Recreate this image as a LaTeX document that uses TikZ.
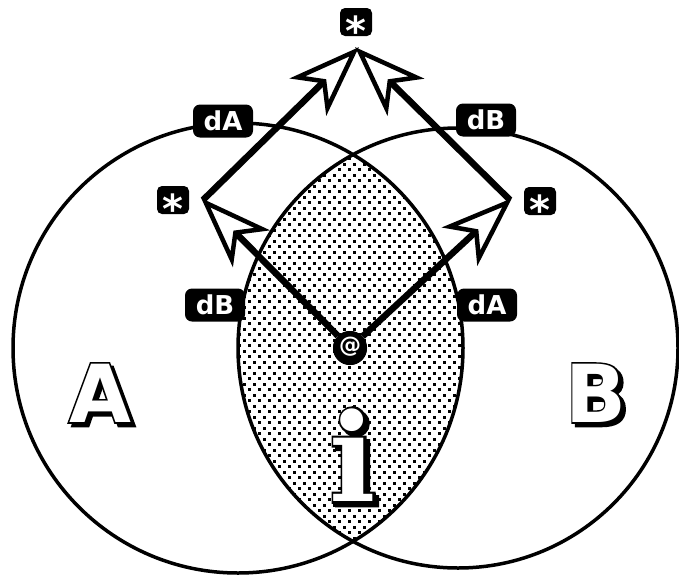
\documentclass[tikz,border=0pt]{standalone}
\usepackage{fontspec}
\setmainfont{DejaVu Sans}
\newfontface\sansfat[FakeBold=4]{DejaVu Sans Bold}
\newfontface\sansreg{DejaVu Sans Bold}
\newfontface\seriffat[FakeBold=4]{DejaVu Serif Bold}
\newfontface\serifreg{DejaVu Serif Bold}
\usetikzlibrary{calc}
\newcommand\fancytext[5]{% name, pos, fat font, regular font, text
  \node[font=#3,text=black,inner sep=0pt] at ($(#2)+(3.5,3.5)$) {#5};
  \node[font=#3,text=black,inner sep=0pt] at (#2) {#5};
  \node[font=#4,text=white,inner sep=0pt] (#1) at (#2) {#5};
}
\newcommand\harrow[2]{%
  \draw[shaft] (#1) -- ($(#2)!44pt!(#1)$);
}
\newcommand\hhead[2]{%
  \draw[headst] ($(#2)!4pt!(#1)$) -- ($(#2)!66pt!19:(#1)$) -- ($(#2)!46pt!(#1)$) -- ($(#2)!66pt!-19:(#1)$) -- cycle;
}
\begin{document}
\begin{tikzpicture}[x=1pt,y=-1pt,
  ring/.style={line width=3.5pt},
  shaft/.style={line width=6.5pt},
  headst/.style={line width=4.5pt, fill=white, line join=miter},
  tag/.style={fill=black, text=white, rounded corners=7pt, font=\bfseries\fontsize{26}{26}\selectfont, inner sep=0pt, minimum width=60pt, minimum height=33pt},
  starbox/.style={fill=black, rounded corners=5pt, inner sep=0pt, minimum width=32pt, minimum height=28pt},
  startext/.style={text=white, font=\bfseries\fontsize{40}{40}\selectfont, inner sep=0pt, anchor=base}]
\useasboundingbox (0,0) rectangle (679,581);
\fill[white] (0,0) rectangle (679,581);
\coordinate (cA) at (238,348);
\coordinate (cB) at (458,348);
% lens dots
\begin{scope}
  \clip (cA) circle[radius=225pt];
  \clip (cB) circle[radius=220pt];
  \foreach \j in {0,...,73} {
    \foreach \i in {0,...,24} {
      \pgfmathsetmacro\xx{228+10*\i+5*mod(\j,2)}
      \pgfmathsetmacro\yy{146+5.5*\j}
      \fill[black] (\xx,\yy) rectangle +(3.3,3.3);
    }
  }
\end{scope}
\draw[ring] (cA) circle[radius=225pt];
\draw[ring] (cB) circle[radius=220pt];
% arrow points
\coordinate (apex) at (357,49);
\coordinate (lc) at (203,200);
\coordinate (rc) at (510,200);
\node[fill=black, circle, inner sep=0pt, minimum size=34pt] (at) at (350,348) {};
% shafts
\harrow{at}{lc}
\harrow{at}{rc}
\harrow{lc}{apex}
\harrow{rc}{apex}
% heads
\hhead{at}{lc}
\hhead{at}{rc}
\hhead{lc}{apex}
\hhead{rc}{apex}
\node[fill=black, circle, inner sep=0pt, minimum size=34pt] (atb) at (350,348) {};
\node[text=white, font=\bfseries\fontsize{22}{22}\selectfont, inner sep=0pt] (attext) at (350,347) {@};
% tags
\node[tag] (dA1) at (223,121) {dA};
\node[tag] (dB1) at (486,120) {dB};
\node[tag] (dB2) at (215,305) {dB};
\node[tag] (dA2) at (487,305) {dA};
% stars
\node[starbox] (s1) at (356,22) {};
\node[startext] (s1t) at ($(s1.center)+(0,23)$) {*};
\node[starbox] (s2) at (173,200) {};
\node[startext] (s2t) at ($(s2.center)+(0,23)$) {*};
\node[starbox] (s3) at (540,201) {};
\node[startext] (s3t) at ($(s3.center)+(0,23)$) {*};
% big letters
\coordinate (pA) at (100,393);
\coordinate (pB) at (596,393);
\coordinate (pi) at (353,455);
\fancytext{A}{pA}{\sansfat\fontsize{80}{80}\selectfont}{\sansreg\fontsize{80}{80}\selectfont}{A}
\fancytext{B}{pB}{\sansfat\fontsize{80}{80}\selectfont}{\sansreg\fontsize{80}{80}\selectfont}{B}
\fancytext{i}{pi}{\seriffat\fontsize{122}{122}\selectfont}{\serifreg\fontsize{122}{122}\selectfont}{i}
\end{tikzpicture}
\end{document}
